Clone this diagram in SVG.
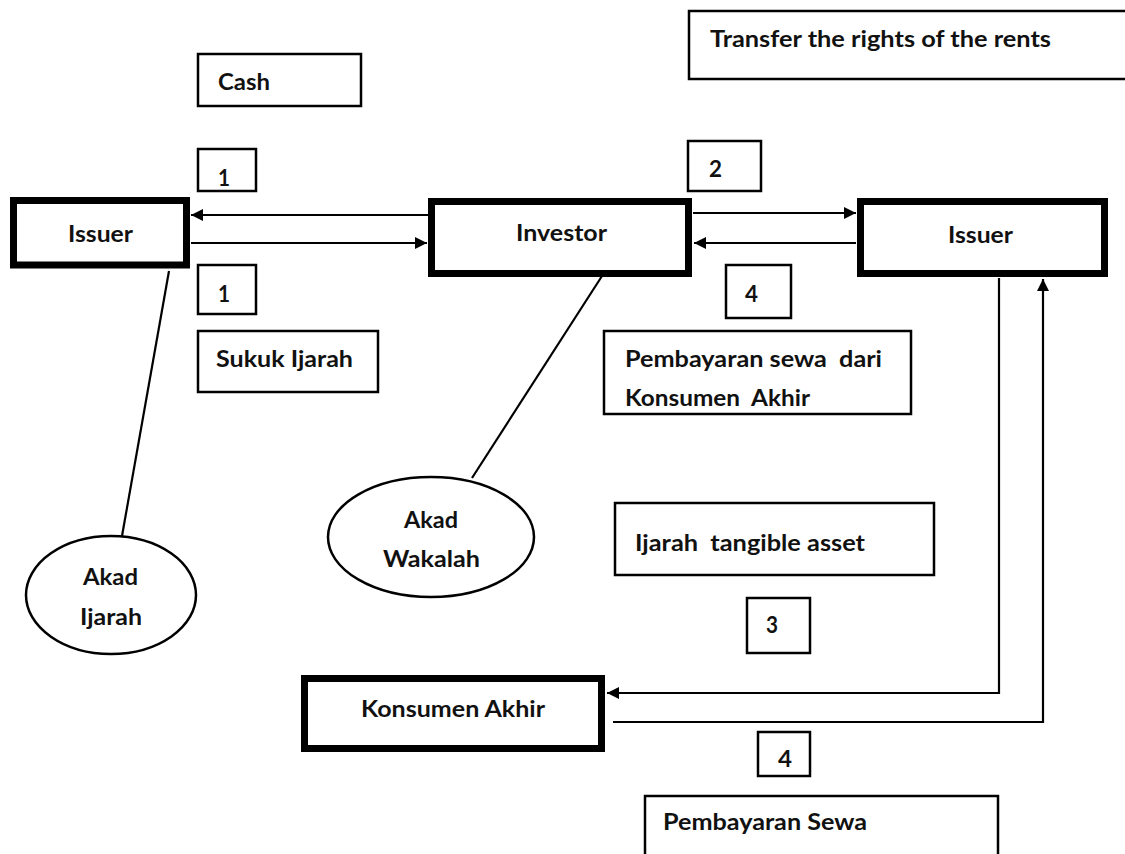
<svg xmlns="http://www.w3.org/2000/svg" width="1125" height="854" viewBox="0 0 1125 854">
  <style>
    .thick { fill: #ffffff; stroke: #000000; stroke-width: 7; }
    .thin { fill: #ffffff; stroke: #000000; stroke-width: 2.5; }
    .oval { fill: #ffffff; stroke: #000000; stroke-width: 2.5; }
    .wire { fill: none; stroke: #000000; stroke-width: 2.2; }
    .lbl { font-family: Lato, "Open Sans", "Liberation Sans", sans-serif; font-weight: 700; font-size: 23px; fill: #111111; }
  </style>
  <defs>
    <marker id="arrow" markerUnits="userSpaceOnUse" markerWidth="13" markerHeight="12" refX="12" refY="6" orient="auto">
      <path d="M0,0 L12,6 L0,12 z" fill="#000000"/>
    </marker>
  </defs>
  <rect x="0" y="0" width="1125" height="854" fill="#ffffff"/>

  <!-- connectors -->
  <g id="connectors">
    <line class="wire" x1="428" y1="215" x2="191" y2="215" marker-end="url(#arrow)"/>
    <line class="wire" x1="191" y1="243" x2="427" y2="243" marker-end="url(#arrow)"/>
    <line class="wire" x1="693" y1="213" x2="856" y2="213" marker-end="url(#arrow)"/>
    <line class="wire" x1="856" y1="243" x2="694" y2="243" marker-end="url(#arrow)"/>
    <polyline class="wire" points="999,278 999,693 607,693" marker-end="url(#arrow)"/>
    <polyline class="wire" points="613,722 1043,722 1043,279" marker-end="url(#arrow)"/>
    <line class="wire" x1="169" y1="271" x2="122" y2="536"/>
    <line class="wire" x1="602" y1="276" x2="472" y2="478"/>
  </g>

  <!-- main parties -->
  <g id="issuer-left">
    <rect class="thick" x="13.5" y="200.5" width="173" height="64.5"/>
    <text class="lbl" x="68" y="242" textLength="65" lengthAdjust="spacingAndGlyphs">Issuer</text>
  </g>
  <g id="investor">
    <rect class="thick" x="431.5" y="201.5" width="257" height="72"/>
    <text class="lbl" x="516" y="241" textLength="91" lengthAdjust="spacingAndGlyphs">Investor</text>
  </g>
  <g id="issuer-right">
    <rect class="thick" x="860.5" y="201.5" width="244" height="72"/>
    <text class="lbl" x="948" y="243" textLength="65" lengthAdjust="spacingAndGlyphs">Issuer</text>
  </g>
  <g id="konsumen-akhir">
    <rect class="thick" x="304.5" y="678.5" width="297" height="70"/>
    <text class="lbl" x="361" y="717" textLength="184" lengthAdjust="spacingAndGlyphs">Konsumen Akhir</text>
  </g>

  <!-- flow labels -->
  <g id="label-transfer">
    <rect class="thin" x="689" y="11" width="450" height="68"/>
    <text class="lbl" x="710" y="47" textLength="341" lengthAdjust="spacingAndGlyphs">Transfer the rights of the rents</text>
  </g>
  <g id="label-cash">
    <rect class="thin" x="198" y="54" width="163" height="52"/>
    <text class="lbl" x="218" y="90" textLength="52" lengthAdjust="spacingAndGlyphs">Cash</text>
  </g>
  <g id="step-1-top">
    <rect class="thin" x="198" y="149" width="58" height="42"/>
    <text class="lbl" x="218" y="186" textLength="12" lengthAdjust="spacingAndGlyphs">1</text>
  </g>
  <g id="step-1-bottom">
    <rect class="thin" x="198" y="265" width="58" height="49"/>
    <text class="lbl" x="218" y="302" textLength="12" lengthAdjust="spacingAndGlyphs">1</text>
  </g>
  <g id="label-sukuk">
    <rect class="thin" x="198" y="331" width="180" height="61"/>
    <text class="lbl" x="216" y="367" textLength="137" lengthAdjust="spacingAndGlyphs">Sukuk Ijarah</text>
  </g>
  <g id="step-2">
    <rect class="thin" x="688" y="141" width="73" height="50"/>
    <text class="lbl" x="709" y="177" textLength="13" lengthAdjust="spacingAndGlyphs">2</text>
  </g>
  <g id="step-4-top">
    <rect class="thin" x="726" y="265" width="65" height="53"/>
    <text class="lbl" x="745" y="302" textLength="13" lengthAdjust="spacingAndGlyphs">4</text>
  </g>
  <g id="label-pembayaran-dari">
    <rect class="thin" x="604" y="331" width="307" height="83"/>
    <text class="lbl" x="625" y="367" textLength="257" lengthAdjust="spacingAndGlyphs" xml:space="preserve">Pembayaran sewa  dari</text>
    <text class="lbl" x="625" y="406" textLength="185" lengthAdjust="spacingAndGlyphs" xml:space="preserve">Konsumen  Akhir</text>
  </g>
  <g id="label-tangible">
    <rect class="thin" x="615" y="503" width="319" height="72"/>
    <text class="lbl" x="635" y="551" textLength="230" lengthAdjust="spacingAndGlyphs" xml:space="preserve">Ijarah  tangible asset</text>
  </g>
  <g id="step-3">
    <rect class="thin" x="747" y="598" width="63" height="55"/>
    <text class="lbl" x="766" y="633" textLength="12" lengthAdjust="spacingAndGlyphs">3</text>
  </g>
  <g id="step-4-bottom">
    <rect class="thin" x="758" y="732" width="52" height="44"/>
    <text class="lbl" x="778" y="767" textLength="14" lengthAdjust="spacingAndGlyphs">4</text>
  </g>
  <g id="label-pembayaran-sewa">
    <rect class="thin" x="645" y="796" width="353" height="70"/>
    <text class="lbl" x="663" y="830" textLength="204" lengthAdjust="spacingAndGlyphs">Pembayaran Sewa</text>
  </g>

  <!-- contracts -->
  <g id="akad-ijarah">
    <ellipse class="oval" cx="111" cy="595" rx="85" ry="59"/>
    <text class="lbl" x="83" y="585" textLength="55" lengthAdjust="spacingAndGlyphs">Akad</text>
    <text class="lbl" x="80" y="625" textLength="62" lengthAdjust="spacingAndGlyphs">Ijarah</text>
  </g>
  <g id="akad-wakalah">
    <ellipse class="oval" cx="431" cy="537" rx="103" ry="60"/>
    <text class="lbl" x="404" y="528" textLength="54" lengthAdjust="spacingAndGlyphs">Akad</text>
    <text class="lbl" x="383" y="567" textLength="97" lengthAdjust="spacingAndGlyphs">Wakalah</text>
  </g>
</svg>
